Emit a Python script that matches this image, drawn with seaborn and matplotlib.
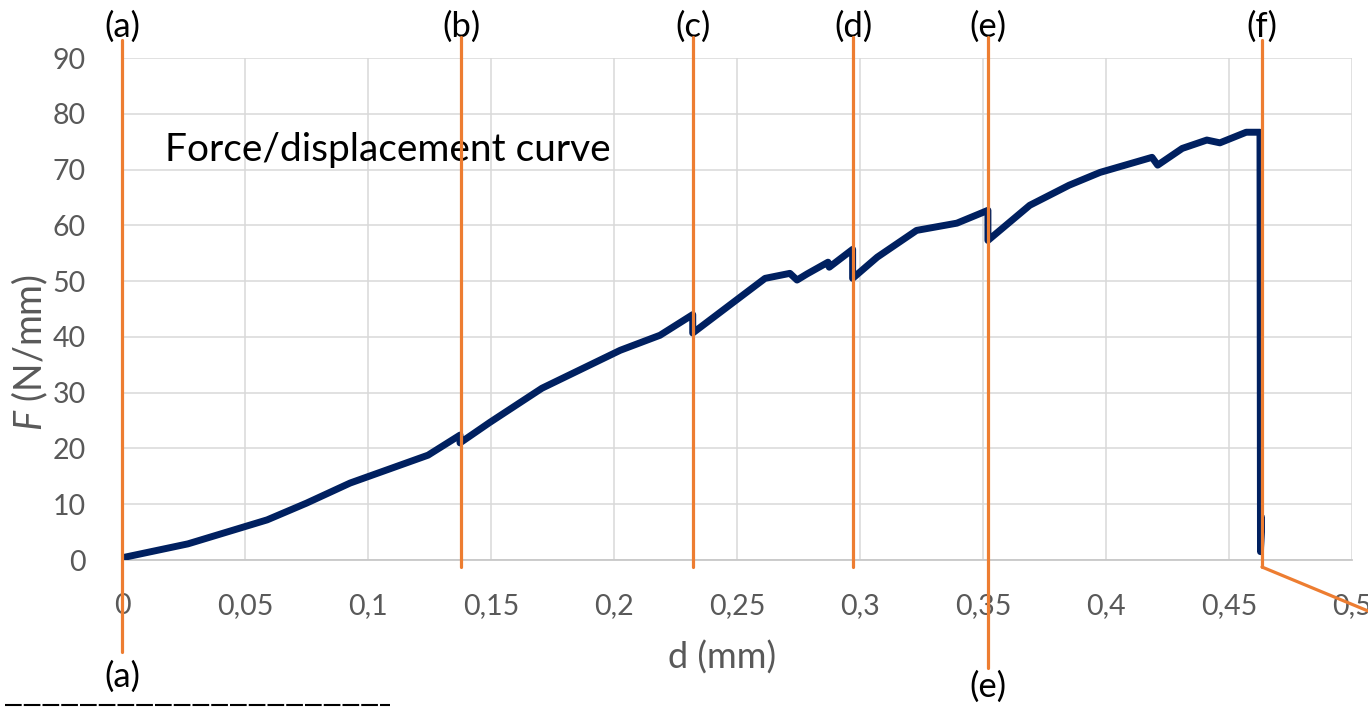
import matplotlib
matplotlib.use("Agg")
import matplotlib.pyplot as plt
import seaborn as sns
import pandas as pd
from matplotlib.lines import Line2D

# ---- data ----
disp = [0, 0.0268, 0.059, 0.075, 0.0927, 0.1244, 0.1374, 0.1374, 0.1496, 0.1707,
        0.2025, 0.2187, 0.232, 0.232, 0.2614, 0.2715, 0.2744, 0.2785, 0.287, 0.2875,
        0.297, 0.297, 0.307, 0.323, 0.3394, 0.352, 0.352, 0.369, 0.385, 0.3976,
        0.4187, 0.421, 0.431, 0.441, 0.4463, 0.457, 0.4626, 0.4628, 0.4632, 0.4628]
force = [0.4, 2.9, 7.2, 10.2, 13.8, 18.8, 22.4, 21.0, 24.7, 30.8,
         37.6, 40.3, 44.0, 40.7, 50.5, 51.4, 50.2, 51.3, 53.4, 52.5,
         55.7, 50.5, 54.3, 59.1, 60.4, 62.7, 57.3, 63.6, 67.2, 69.5,
         72.2, 70.8, 73.8, 75.3, 74.8, 76.7, 76.7, 1.5, 7.7, 2.0]

stage_labels = ["(a)", "(b)", "(c)", "(d)", "(e)", "(f)"]
stage_x = [0.0, 0.1378, 0.2321, 0.2972, 0.352, 0.4634]
stage_top = [93.2, 93.7, 93.7, 93.7, 93.7, 93.2]
stage_bottom = [-16.5, -1.25, -1.25, -1.25, -19.4, -1.25]
bottom_labels = ["(a)", "(e)"]
bottom_label_x = [0.0, 0.352]
bottom_label_y = [-21.0, -22.8]
tail_x = [0.4634, 0.52]
tail_y = [-1.25, -11.6]

xticks = [0, 0.05, 0.1, 0.15, 0.2, 0.25, 0.3, 0.35, 0.4, 0.45, 0.5]
xtick_labels = ["0", "0,05", "0,1", "0,15", "0,2", "0,25", "0,3", "0,35", "0,4", "0,45", "0,5"]
yticks = [0, 10, 20, 30, 40, 50, 60, 70, 80, 90]

sns.set_theme(style="white")
plt.rcParams["font.family"] = ["Lato", "DejaVu Sans"]
plt.rcParams["mathtext.fontset"] = "custom"
plt.rcParams["mathtext.it"] = "Lato:italic"
plt.rcParams["mathtext.rm"] = "Lato"

fig = plt.figure(figsize=(13.68, 7.08), dpi=100)
ax = fig.add_axes([0.0892, 0.209, 0.8991, 0.709])

df = pd.DataFrame({"d": disp, "F": force})

ax.set_xlim(0, 0.5)
ax.set_ylim(0, 90)
ax.set_xticks(xticks)
ax.set_xticklabels(xtick_labels)
ax.set_yticks(yticks)
ax.grid(True, color="#d9d9d9", linewidth=1.1)
ax.set_axisbelow(True)
for s in ["left", "top", "right"]:
    ax.spines[s].set_visible(False)
ax.spines["bottom"].set_color("#c8c8c8")
ax.spines["bottom"].set_linewidth(1.3)
ax.tick_params(axis="both", length=0, labelsize=20.5, colors="#595959")
ax.tick_params(axis="x", pad=24)
ax.tick_params(axis="y", pad=26)

sns.lineplot(data=df, x="d", y="F", sort=False, estimator=None, ax=ax,
             color="#002060", linewidth=5, zorder=4, solid_joinstyle="round",
             solid_capstyle="round")

# orange stage lines (drawn over the curve)
for xs, yt, yb in zip(stage_x, stage_top, stage_bottom):
    ax.plot([xs, xs], [yb, yt], color="#ED7D31", linewidth=2.3, clip_on=False, zorder=5)
ax.plot(tail_x, tail_y, color="#ED7D31", linewidth=2.3, clip_on=False, zorder=5)

ax.set_xlim(0, 0.5)
ax.set_ylim(0, 90)

for lab, xs in zip(stage_labels, stage_x):
    ax.text(xs, 95.6, lab, ha="center", va="center", fontsize=25, color="black", clip_on=False)
for lab, xs, ys in zip(bottom_labels, bottom_label_x, bottom_label_y):
    ax.text(xs, ys, lab, ha="center", va="center", fontsize=25, color="black", clip_on=False)

ax.text(0.0175, 73.5, "Force/displacement curve", ha="left", va="center", fontsize=28, color="black")

ax.set_xlabel("d (mm)", fontsize=26, color="#595959")
ax.set_ylabel(r"$\it{F}$ (N/mm)", fontsize=27, color="#595959")
ax.xaxis.set_label_coords(0.488, -0.161)
ax.yaxis.set_label_coords(-0.0585, 0.414)

# small artefact line at bottom-left
fig.add_artist(Line2D([5 / 1368, 390 / 1368], [3 / 708, 3 / 708], color="black",
                      linewidth=1.5, linestyle=(0, (8, 1))))

fig.savefig("out.png", dpi=100)
